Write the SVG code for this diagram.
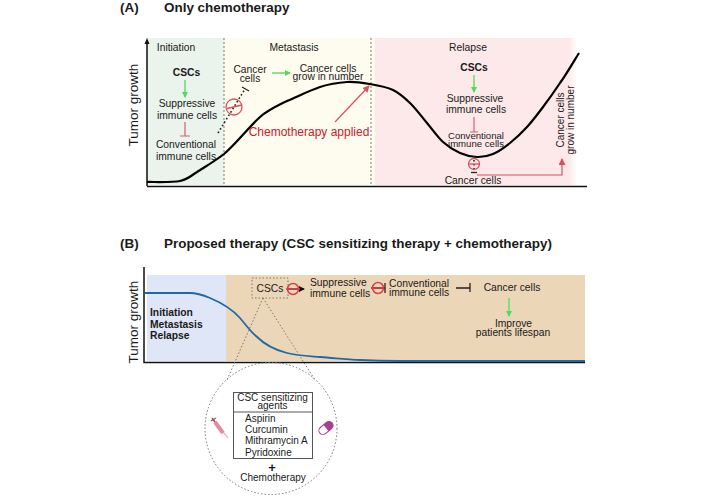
<svg xmlns="http://www.w3.org/2000/svg" width="706" height="497" viewBox="0 0 706 497">
<defs>
<style>
text{font-family:"Liberation Sans",Arial,sans-serif;fill:#1a1a1a;font-size:10.3px;text-anchor:middle}
.h{font-size:13.45px;font-weight:bold;text-anchor:start}
.b{font-weight:bold}
.axl{font-size:13.5px}
.l{text-anchor:start}
.s{font-size:9.6px}
.t{font-size:10px}
.red{fill:#c8202f;font-size:12px}
.curve{fill:none;stroke:#000;stroke-width:2.2}
.ax{fill:none;stroke:#111;stroke-width:1.5}
.sep{fill:none;stroke:#777;stroke-width:1;stroke-dasharray:2 2}
.g{stroke:#5fe066;stroke-width:1.5;fill:none;marker-end:url(#ga)}
.r{stroke:#d9606c;stroke-width:1.2;fill:none}
.ra{stroke:#d9505e;stroke-width:1.2;fill:none;marker-end:url(#ra)}
.blk{stroke:#222;stroke-width:1.3;fill:none}
.dot{stroke:#222;stroke-width:1.6;stroke-dasharray:1.6 2.4;fill:none}
.gd{stroke:#777;stroke-width:1;stroke-dasharray:1.5 2;fill:none}
.bc{fill:none;stroke:#d9505e;stroke-width:1.3}
.bs{fill:none;stroke:#d9404a;stroke-width:1.5}
</style>
<marker id="ga" markerWidth="7" markerHeight="7" refX="5" refY="3" orient="auto" markerUnits="userSpaceOnUse"><path d="M0,0L6,3L0,6Z" fill="#4fdc5a"/></marker>
<marker id="ra" markerWidth="8" markerHeight="8" refX="6" refY="3.500" orient="auto" markerUnits="userSpaceOnUse"><path d="M0,0L7,3.500L0,7Z" fill="#d9505e"/></marker>
<marker id="ka" markerWidth="7" markerHeight="7" refX="5" refY="3" orient="auto" markerUnits="userSpaceOnUse"><path d="M0,0L6,3L0,6Z" fill="#111"/></marker>
<linearGradient id="pf" x1="0" x2="1" y1="0" y2="0"><stop offset="0.96" stop-color="#fde9e9"/><stop offset="1" stop-color="#fde9e9" stop-opacity="0"/></linearGradient>
</defs>

<g id="panel-a-backgrounds">
<rect x="147" y="38" width="77" height="147" fill="#eaf3ec"/>
<rect x="224" y="38" width="151" height="147" fill="#fefcee"/>
<rect x="375" y="38" width="202" height="147" fill="url(#pf)"/>
</g>
<g id="panel-b-backgrounds">
<rect x="147" y="275" width="79" height="86" fill="#dfe6f7"/>
<rect x="226" y="275" width="359" height="86" fill="#ecd6b8"/>
</g>

<g id="connectors">
<path class="ax" d="M147,186.500H587M147,186V42"/>
<path d="M147,38l-2.500,6h5z" fill="#111"/>
<path class="sep" d="M224,38V185M371,38V185"/>
<path class="curve" d="M147,182C152.500,181.800 171.700,182.700 180,181C188.300,179.300 191.500,175.200 197,172C208,165 215,161 224,154C235,145 248,128 260,117C268,110 277,106 287,101C297,96.800 310,90.300 320,87C330,83.700 338.700,82.500 347,82C355.300,81.500 362.300,82.700 370,84C377.700,85.300 386.300,86.800 393,90C399.700,93.200 404.300,97.500 410,103C415.700,108.500 421.500,116.500 427,123C432.500,129.500 437.500,137 443,142C448.500,147 454.300,150.500 460,153C465.700,155.500 471.500,156.800 477,157C482.500,157.200 487.500,156.300 493,154C498.500,151.700 504.300,147.500 510,143C515.700,138.500 521.500,133 527,127C532.500,121 537.500,114.300 543,107C548.500,99.700 554,92 560,83C566,75 575.800,58 579,53"/>
<path class="g" d="M185,80V97"/>
<path class="r" d="M185,122V136M180,136H190"/>
<path class="g" d="M272,73H290"/>
<path class="dot" d="M218,133L245,89"/>
<path class="blk" d="M242,87l7,4" stroke-width="1"/>
<path class="ra" d="M335,122L369,86"/>
<path class="g" d="M474,75V92"/>
<path class="r" d="M474,117V132M470,132H478"/>
<path class="dot" d="M474,156V172"/>
<path class="blk" d="M471,172.500h6" stroke-width="1"/>
<path class="ra" d="M477,175H562V159"/>

<path class="ax" d="M144,267V362.500H585" stroke-width="1.600"/>
<path d="M145,293H190C197,293 204,295.500 210,298C222,303 232,309 240,318C246,325 250,331 256,336C264,344 275,350 287,353C297,355.500 308,356 320,357C335,358 345,359.500 360,360C370,360.500 380,361 400,361H585" fill="none" stroke="#1e6aa8" stroke-width="1.800"/>
<rect x="252" y="278" width="36" height="20" class="gd"/>
<path class="gd" d="M263,298L227,380M263,298L315,380"/>
<path class="blk" d="M287,289H304" marker-end="url(#ka)"/>
<path class="blk" d="M371,288H385M385,283V293"/>
<path class="blk" d="M456,288H470M470,283V292"/>
<path class="g" d="M509,298V316"/>
</g>

<g id="blockers">
<circle cx="234" cy="107" r="8" class="bc"/>
<path class="bc" d="M227,108.500L242,105"/>
<circle cx="474" cy="164" r="5.500" class="bc"/>
<path class="bc" d="M468,164H480"/>
<circle cx="293" cy="289" r="5.500" class="bs"/>
<path class="bs" d="M286,289H300"/>
<circle cx="378" cy="288" r="5.500" class="bs"/>
<path class="bs" d="M371,288H384"/>
</g>

<g id="panel-labels">
<text class="h" x="120" y="12">(A)</text>
<text class="h" x="164" y="12">Only chemotherapy</text>
<text class="h" x="120" y="248">(B)</text>
<text class="h" x="164" y="248">Proposed therapy (CSC sensitizing therapy + chemotherapy)</text>
<text class="axl" transform="translate(138,105) rotate(-90)">Tumor growth</text>
<text class="axl" transform="translate(138,322) rotate(-90)">Tumor growth</text>
</g>

<g id="node-initiation">
<text x="176" y="51">Initiation</text>
<text x="186.500" y="76" class="b">CSCs</text>
<text y="107"><tspan x="187">Suppressive</tspan><tspan x="187" dy="11.500">immune cells</tspan></text>
<text y="148"><tspan x="186">Conventional</tspan><tspan x="186" dy="11.500">immune cells</tspan></text>
</g>
<g id="node-metastasis">
<text x="294" y="51">Metastasis</text>
<text y="73"><tspan x="250">Cancer</tspan><tspan x="250" dy="8.500">cells</tspan></text>
<text y="71.500"><tspan x="328">Cancer cells</tspan><tspan x="328" dy="8.500">grow in number</tspan></text>
<text class="red" x="309" y="136">Chemotherapy applied</text>
</g>
<g id="node-relapse">
<text x="468" y="51">Relapse</text>
<text x="474" y="71" class="b">CSCs</text>
<text y="102"><tspan x="475">Suppressive</tspan><tspan x="476" dy="11">immune cells</tspan></text>
<text class="s" y="139"><tspan x="476">Conventional</tspan><tspan x="476" dy="8">immune cells</tspan></text>
<text x="473" y="184">Cancer cells</text>
<text class="t" transform="translate(564,120) rotate(-90)"><tspan x="0" y="0">Cancer cells</tspan><tspan x="0" y="10">grow in number</tspan></text>
</g>
<g id="node-stages">
<text class="b l" y="316"><tspan x="150">Initiation</tspan><tspan x="150" dy="12">Metastasis</tspan><tspan x="150" dy="11">Relapse</tspan></text>
</g>
<g id="node-pathway">
<text x="270" y="292">CSCs</text>
<text class="l" y="286"><tspan x="310">Suppressive</tspan><tspan x="310" dy="11">immune cells</tspan></text>
<text class="l" y="287"><tspan x="389">Conventional</tspan><tspan x="389" dy="9">immune cells</tspan></text>
<text x="512" y="291">Cancer cells</text>
<text y="326.500"><tspan x="513.500">Improve</tspan><tspan x="513" dy="9">patients lifespan</tspan></text>
</g>
<g id="node-agents">
<circle cx="271" cy="428.500" r="66" class="gd"/>
<rect x="233.500" y="392.500" width="79" height="66" fill="#fff" stroke="#555" stroke-width="1"/>
<path d="M233.500,412H312.500" stroke="#555" stroke-width="1"/>
<text class="t" y="400.500"><tspan x="272.500">CSC sensitizing</tspan><tspan x="272.500" dy="8.500">agents</tspan></text>
<text class="t l" y="422"><tspan x="245">Aspirin</tspan><tspan x="245" dy="11">Curcumin</tspan><tspan x="245" dy="11">Mithramycin A</tspan><tspan x="245" dy="12">Pyridoxine</tspan></text>
<text x="272" y="472" style="font-size:13px;font-weight:bold">+</text>
<text class="t" x="273" y="481">Chemotherapy</text>
</g>
<g id="node-syringe">
<path d="M219,427L228,438" stroke="#eebcc6" stroke-width="1.500"/>
<path d="M215,422L223,433" stroke="#e58aa0" stroke-width="4"/>
<path d="M212,418L215,422" stroke="#a84a60" stroke-width="1.500"/>
<path d="M211,421l5,-3" stroke="#a84a60" stroke-width="1.200"/>
</g>
<g id="node-capsule" transform="translate(326,428) rotate(-40)">
<rect x="-8" y="-4" width="16" height="8" rx="4" fill="#fff" stroke="#a8408f" stroke-width="1"/>
<path d="M0,-4H4A4,4 0 0 1 4,4H0Z" fill="#a8408f"/>
</g>
</svg>
